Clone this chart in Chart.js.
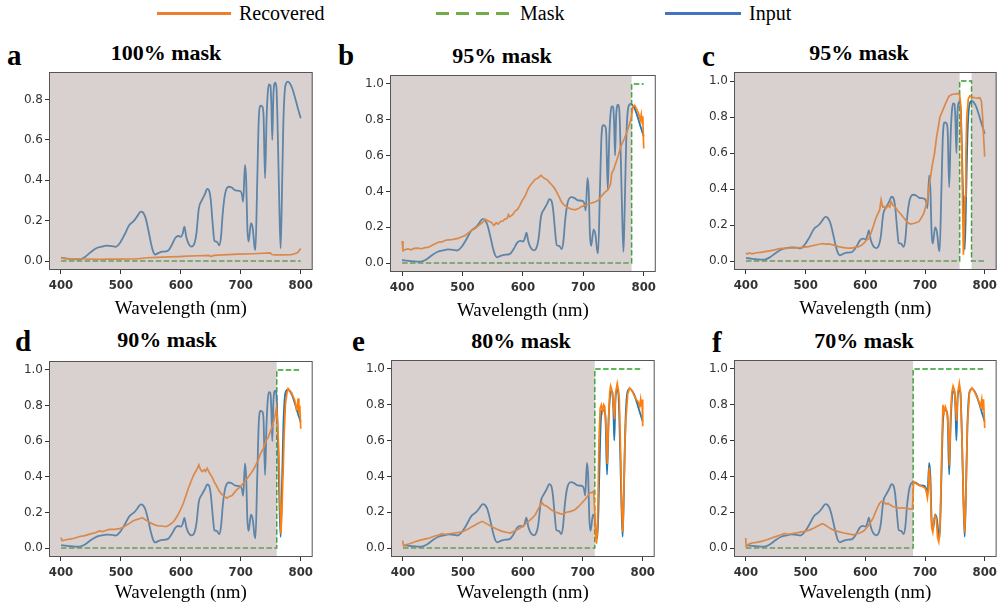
<!DOCTYPE html>
<html>
<head>
<meta charset="utf-8">
<script src="https://cdn.jsdelivr.net/npm/chart.js@4.4.1/dist/chart.umd.min.js"></script>
<style>
body{margin:0;width:1001px;height:610px;background:#fff;position:relative;overflow:hidden;font-family:'Liberation Serif','Times New Roman',serif}
canvas{position:absolute}
.txt{position:absolute;line-height:1;white-space:nowrap;color:#000}
.letter{font-size:29px;font-weight:bold}
.title{font-size:22px;font-weight:bold;transform:translateX(-50%)}
.leg{font-size:20px}
.legline{position:absolute;height:3px}
</style>
</head>
<body>
<div class="legline" style="left:157px;top:12px;width:74px;background:#ed7d31"></div>
<div class="txt leg" style="left:239px;top:3px">Recovered</div>
<div class="legline" style="left:436px;top:12px;width:77px;background:repeating-linear-gradient(90deg,#70ad47 0 13px,transparent 13px 20px)"></div>
<div class="txt leg" style="left:520px;top:3px">Mask</div>
<div class="legline" style="left:665px;top:12px;width:76px;background:#4472c4"></div>
<div class="txt leg" style="left:749px;top:3px">Input</div>
<div id="root"></div>
<script>
// wavelengths (nm) of the measured input spectrum, shared by all panels
const inputWl = [400,410,420,431,440,450,459,468,476,485,491,498,506,514,522,528,533,537,541,546,550,554,557,563,569,578,585,591,596,600,603,606,609,613,618,623,626,630,635,640,644,647,650,653,656,660,664,667,670,674,680,685,691,699,702,704,707,709,711,713,717,720,723,724.5,727.5,730,733,736,738,740.5,743,745,747,749.5,751,752.6,754.5,757.5,759.5,762,764.5,766.5,768.5,771,774.5,778.5,782,786,790,795,800];
const inputVal = [0.017,0.012,0.009,0.008,0.02,0.045,0.063,0.071,0.076,0.074,0.07,0.088,0.13,0.178,0.2,0.225,0.245,0.24,0.215,0.15,0.09,0.045,0.032,0.04,0.046,0.05,0.08,0.115,0.124,0.12,0.135,0.17,0.12,0.085,0.071,0.09,0.137,0.26,0.3,0.33,0.357,0.35,0.3,0.19,0.1,0.096,0.078,0.12,0.24,0.335,0.368,0.364,0.35,0.347,0.33,0.294,0.476,0.4,0.16,0.096,0.187,0.16,0.07,0.055,0.4,0.7,0.77,0.765,0.72,0.41,0.7,0.83,0.875,0.87,0.78,0.6,0.83,0.884,0.86,0.6,0.25,0.063,0.3,0.68,0.87,0.889,0.88,0.855,0.815,0.76,0.707];

// recovered spectra, [wavelength, value]
const recoveredA = [[400,0.017],[405,0.012],[420,0.011],[440,0.01],[465,0.008],[480,0.01],[500,0.009],[520,0.01],[531,0.012],[545,0.016],[560,0.018],[580,0.02],[597,0.022],[610,0.024],[630,0.026],[647,0.028],[650,0.022],[655,0.028],[670,0.03],[696,0.034],[720,0.036],[749,0.04],[752,0.032],[757,0.03],[770,0.03],[784,0.032],[790,0.036],[795,0.042],[800,0.062]];
const recoveredB = [[400,0.123],[401.5,0.068],[405,0.075],[410,0.079],[415,0.074],[420,0.082],[426,0.083],[432,0.08],[438,0.086],[443,0.087],[450,0.1],[455,0.108],[460,0.116],[466,0.118],[471,0.126],[476,0.129],[482,0.13],[488,0.135],[493,0.138],[498,0.145],[504,0.153],[510,0.17],[515,0.182],[521,0.193],[527,0.21],[534,0.23],[537,0.245],[543,0.235],[548,0.227],[552,0.21],[556,0.225],[559,0.217],[563,0.232],[567,0.235],[570,0.245],[574,0.25],[576,0.27],[578,0.258],[583,0.27],[587,0.29],[591,0.3],[595,0.322],[599,0.35],[604,0.376],[608,0.41],[612,0.433],[616,0.45],[620,0.466],[625,0.475],[630,0.49],[633,0.48],[636,0.472],[640,0.466],[644,0.45],[648,0.436],[652,0.42],[656,0.396],[660,0.37],[664,0.34],[668,0.325],[673,0.313],[678,0.303],[686,0.297],[692,0.304],[697,0.315],[703,0.322],[708,0.328],[714,0.335],[720,0.342],[725,0.35],[730,0.374],[736,0.396],[741,0.41],[745,0.44],[747,0.5],[750,0.52],[754,0.56],[758,0.6],[762,0.65],[767,0.687],[771,0.72],[775,0.76],[778,0.79],[780,0.82],[782,0.875],[785,0.88],[789,0.856],[792,0.83],[794.5,0.8],[796,0.83],[797.5,0.78],[798.5,0.82],[800,0.64]];
const recoveredC = [[400,0.046],[402,0.039],[406,0.045],[410,0.04],[418,0.046],[425,0.048],[432,0.052],[440,0.056],[448,0.062],[456,0.069],[465,0.07],[473,0.071],[484,0.073],[495,0.076],[505,0.08],[517,0.089],[528,0.097],[534,0.094],[539,0.095],[547,0.088],[555,0.08],[564,0.074],[572,0.071],[578,0.072],[583,0.076],[589,0.08],[594,0.089],[598,0.1],[602,0.117],[606,0.124],[610,0.16],[614,0.2],[618,0.24],[622,0.27],[624,0.284],[626.5,0.34],[629,0.3],[631,0.303],[634,0.29],[638,0.307],[641,0.3],[643,0.33],[646,0.31],[649,0.303],[652,0.29],[655.5,0.275],[659,0.262],[662.6,0.247],[667,0.23],[671,0.214],[676,0.205],[682,0.21],[686,0.214],[690,0.22],[694,0.24],[698,0.266],[701,0.3],[704,0.34],[708,0.44],[712,0.53],[716,0.6],[719,0.68],[721,0.72],[725,0.8],[730,0.84],[735,0.88],[740,0.915],[745,0.925],[751,0.928],[756,0.931],[758,0.92],[759.5,0.88],[761.5,0.64],[763,0.3],[764.3,0.035],[765.5,0.15],[767,0.36],[768.5,0.6],[770,0.8],[772.5,0.9],[775,0.917],[779,0.91],[783.5,0.907],[788,0.905],[791.8,0.907],[794.5,0.888],[796.5,0.8],[798,0.7],[800,0.58]];
const recoveredD = [[400,0.059],[402,0.041],[408,0.047],[415,0.05],[422,0.055],[431,0.065],[440,0.07],[448,0.078],[456,0.085],[464.5,0.096],[470,0.093],[476,0.1],[481,0.105],[490,0.105],[497.7,0.109],[503,0.115],[509,0.128],[515,0.14],[520,0.152],[526,0.16],[531,0.165],[536,0.17],[540,0.16],[544.5,0.152],[550,0.14],[558,0.128],[563,0.125],[569,0.124],[575,0.12],[580,0.128],[585,0.14],[588.7,0.152],[594,0.18],[599.7,0.217],[604,0.25],[608,0.29],[612,0.33],[616,0.365],[620,0.4],[624.6,0.43],[628,0.45],[630,0.467],[633,0.44],[635.6,0.43],[639,0.44],[641,0.43],[644,0.448],[648,0.42],[652,0.4],[656,0.37],[660,0.346],[664,0.32],[668.7,0.3],[673,0.29],[677,0.28],[681,0.29],[685,0.294],[689,0.31],[693.5,0.328],[698,0.34],[701.8,0.355],[707,0.375],[712.8,0.4],[717,0.42],[721,0.44],[725,0.465],[729,0.494],[733,0.53],[737.7,0.56],[742,0.6],[746,0.624],[750,0.66],[754,0.7],[757,0.74],[759.7,0.79],[761.5,0.7],[763.6,0.53],[765.5,0.25],[767,0.08],[768.5,0.2],[770.8,0.44],[772.5,0.65],[774.6,0.81],[777,0.87],[779,0.895],[784.5,0.874],[790,0.83],[792.8,0.78],[794.5,0.8],[795.6,0.84],[797,0.754],[798.5,0.8],[800,0.67]];
const recoveredE = [[399.5,0.041],[401,0.013],[406,0.02],[411,0.024],[420,0.035],[427.6,0.043],[436,0.05],[444,0.056],[452,0.066],[460.7,0.074],[465,0.08],[470,0.077],[477,0.08],[488,0.085],[499,0.091],[508,0.105],[516,0.121],[524,0.135],[532,0.149],[540,0.135],[549,0.117],[557,0.105],[565.5,0.093],[572,0.088],[579,0.084],[586,0.095],[593,0.106],[601,0.125],[609.6,0.149],[615,0.165],[620.7,0.186],[626,0.22],[631.7,0.255],[635,0.24],[640,0.233],[645,0.22],[651,0.205],[656,0.2],[662,0.192],[667,0.19],[673,0.2],[680,0.205],[687,0.214],[694,0.235],[700.7,0.26],[706,0.28],[711.7,0.307],[715,0.31],[718,0.316],[720,0.2],[721.5,0.08],[722.8,0.025],[724.5,0.1],[727,0.6],[729,0.78],[731,0.8],[733,0.765],[735,0.8],[736.6,0.79],[738,0.72],[739.3,0.64],[741,0.47],[743,0.72],[745,0.87],[746.5,0.905],[748.7,0.88],[751,0.8],[753,0.72],[755,0.87],[757.5,0.92],[759.5,0.88],[761,0.83],[763,0.55],[765,0.22],[766.9,0.09],[768.5,0.3],[770,0.55],[772,0.72],[775,0.86],[778,0.894],[782,0.88],[786,0.85],[790,0.825],[792,0.82],[795,0.79],[796.6,0.83],[798,0.79],[799,0.83],[800,0.68]];
const recoveredF = [[399.5,0.056],[400.5,0.01],[405,0.022],[410,0.028],[418,0.032],[426,0.037],[435,0.046],[443,0.056],[451,0.065],[459,0.074],[465,0.082],[470,0.077],[476,0.08],[487,0.086],[498,0.093],[506,0.1],[514,0.112],[521,0.124],[528,0.136],[532,0.13],[536,0.121],[541,0.11],[547,0.1],[555,0.092],[564,0.084],[572,0.079],[580,0.074],[586,0.08],[591,0.084],[597,0.095],[602,0.112],[608,0.14],[613,0.167],[617,0.2],[621,0.232],[624,0.25],[627,0.26],[632,0.255],[635,0.245],[638,0.25],[642,0.24],[646,0.232],[651,0.228],[657,0.223],[662,0.225],[668,0.223],[672,0.22],[676,0.217],[679,0.22],[681,0.37],[685,0.36],[690,0.35],[695,0.345],[700,0.335],[702,0.32],[704,0.28],[705.5,0.32],[707,0.45],[709,0.35],[711,0.12],[713,0.09],[715,0.16],[717,0.18],[719,0.16],[721,0.06],[723,0.035],[725,0.1],[727.5,0.45],[730,0.8],[732,0.76],[734,0.79],[736,0.77],[738,0.72],[740,0.6],[741,0.46],[743,0.75],[745,0.87],[747,0.905],[749.5,0.88],[751,0.8],[753,0.71],[755,0.87],[757.5,0.92],[759.5,0.87],[762,0.6],[764.5,0.25],[766.5,0.085],[768.5,0.3],[771,0.68],[774.5,0.87],[778.5,0.895],[782,0.88],[786,0.85],[790,0.82],[793,0.79],[795,0.83],[796.5,0.77],[798,0.83],[800,0.67]];

// unmasked (known) wavelength windows per panel; everything else is masked
const maskWindowsA = [];
const maskWindowsB = [[780, 800]];
const maskWindowsC = [[758, 778]];
const maskWindowsD = [[760, 800]];
const maskWindowsE = [[720, 800]];
const maskWindowsF = [[680, 800]];

const panelTitles = ["100% mask", "95% mask", "95% mask", "90% mask", "80% mask", "70% mask"];
const panelLetters = ["a", "b", "c", "d", "e", "f"];
const xTicks = [400, 500, 600, 700, 800];
const yTicksA = [0, 0.2, 0.4, 0.6, 0.8];
const yTicks = [0, 0.2, 0.4, 0.6, 0.8, 1.0];

function maskPoints(win){
    let pts = [{x: 400, y: 0}];
    win.forEach(function(w){
        pts.push({x: w[0], y: 0}, {x: w[0], y: 1}, {x: w[1], y: 1});
        if(w[1] < 800) pts.push({x: w[1], y: 0});
    });
    let last = pts[pts.length - 1];
    if(last.x < 800) pts.push({x: 800, y: last.y});
    return pts;
}

let shadePlugin = {
    id: "shade",
    afterDatasetsDraw(chart, args, opts){
        let ctx = chart.ctx, a = chart.chartArea, x = chart.scales.x;
        ctx.save();
        ctx.fillStyle = "rgba(170,150,150,0.45)";
        function fill(s, e){
            let p0 = x.getPixelForValue(s), p1 = x.getPixelForValue(e);
            if(p1 > p0) ctx.fillRect(p0, a.top, p1 - p0, a.bottom - a.top);
        }
        let start = x.min;
        opts.windows.forEach(function(w){
            fill(start, w[0]);
            start = w[1] >= 800 ? x.max : w[1];
        });
        fill(start, x.max);
        ctx.strokeStyle = "#555";
        ctx.lineWidth = 1;
        ctx.strokeRect(a.left + 0.5, a.top + 0.5, a.right - a.left - 1, a.bottom - a.top - 1);
        ctx.restore();
    }
};

// layout of each panel (canvas box and text placement)
let panels = [
    {rec: recoveredA, win: maskWindowsA, yMin: -0.0446, yMax: 0.9366, yt: yTicksA, left: 0, top: 62, w: 317, h: 258, axisH: 50, tx: 166, tTop: 41.6, lx: 7, lTop: 40.7},
    {rec: recoveredB, win: maskWindowsB, yMin: -0.05, yMax: 1.05, yt: yTicks, left: 341, top: 65, w: 319, h: 257, axisH: 50, tx: 502, tTop: 44.6, lx: 338, lTop: 40.7},
    {rec: recoveredC, win: maskWindowsC, yMin: -0.05, yMax: 1.05, yt: yTicks, left: 685, top: 62, w: 316, h: 258, axisH: 50, tx: 859, tTop: 41.6, lx: 702, lTop: 42.4},
    {rec: recoveredD, win: maskWindowsD, yMin: -0.05, yMax: 1.05, yt: yTicks, left: 0, top: 351, w: 317, h: 253, axisH: 47, tx: 167, tTop: 328.6, lx: 15, lTop: 327.4},
    {rec: recoveredE, win: maskWindowsE, yMin: -0.05, yMax: 1.05, yt: yTicks, left: 342, top: 350, w: 317, h: 254, axisH: 47, tx: 521, tTop: 329.6, lx: 352, lTop: 327.4},
    {rec: recoveredF, win: maskWindowsF, yMin: -0.05, yMax: 1.05, yt: yTicks, left: 685, top: 350, w: 316, h: 254, axisH: 47, tx: 864, tTop: 329.6, lx: 712, lTop: 327.7}
];

let root = document.getElementById("root");
panels.forEach(function(p, i){
    let letter = document.createElement("div");
    letter.className = "txt letter";
    letter.style.left = p.lx + "px";
    letter.style.top = p.lTop + "px";
    letter.textContent = panelLetters[i];
    root.appendChild(letter);

    let title = document.createElement("div");
    title.className = "txt title";
    title.style.left = p.tx + "px";
    title.style.top = p.tTop + "px";
    title.textContent = panelTitles[i];
    root.appendChild(title);

    let cv = document.createElement("canvas");
    cv.width = p.w;
    cv.height = p.h;
    cv.style.left = p.left + "px";
    cv.style.top = p.top + "px";
    root.appendChild(cv);

    new Chart(cv.getContext("2d"), {
        type: "line",
        data: {
            datasets: [
                {label: "Recovered", data: p.rec.map(d => ({x: d[0], y: d[1]})), borderColor: "#ff7f0e", borderWidth: 1.7, order: 0},
                {label: "Input", data: inputWl.map((w, k) => ({x: w, y: inputVal[k]})), borderColor: "#1f77b4", borderWidth: 1.8, cubicInterpolationMode: "monotone", order: 1},
                {label: "Mask", data: maskPoints(p.win), borderColor: "#2ca02c", borderWidth: 1.5, borderDash: [5.5, 2.4], order: 2}
            ]
        },
        options: {
            responsive: false,
            animation: false,
            devicePixelRatio: 1,
            layout: {padding: {top: 10, right: 2, left: 0, bottom: 0}},
            elements: {point: {radius: 0}, line: {tension: 0}},
            plugins: {legend: {display: false}, tooltip: {enabled: false}, shade: {windows: p.win}},
            scales: {
                x: {
                    type: "linear", min: 380, max: 820,
                    afterBuildTicks: s => { s.ticks = xTicks.map(v => ({value: v})); },
                    afterFit: s => { s.height = p.axisH; },
                    grid: {drawOnChartArea: false, drawTicks: true, tickLength: 4, color: "#333"},
                    border: {display: false},
                    ticks: {padding: 4, color: "#333", autoSkip: false, maxRotation: 0,
                        font: {family: "'Liberation Sans Narrow', 'DejaVu Sans Condensed', sans-serif", size: 13, weight: "bold"},
                        callback: v => String(v)},
                    title: {display: true, text: "Wavelength (nm)", color: "#000", padding: 0,
                        font: {family: "'Liberation Serif', serif", size: 19}}
                },
                y: {
                    type: "linear", min: p.yMin, max: p.yMax,
                    afterBuildTicks: s => { s.ticks = p.yt.map(v => ({value: v})); },
                    afterFit: s => { s.width = 49; },
                    grid: {drawOnChartArea: false, drawTicks: true, tickLength: 4, color: "#333"},
                    border: {display: false},
                    ticks: {padding: 2, color: "#333", autoSkip: false,
                        font: {family: "'DejaVu Sans', sans-serif", size: 12},
                        callback: v => v.toFixed(1)}
                }
            }
        },
        plugins: [shadePlugin]
    });
});
</script>
</body>
</html>
